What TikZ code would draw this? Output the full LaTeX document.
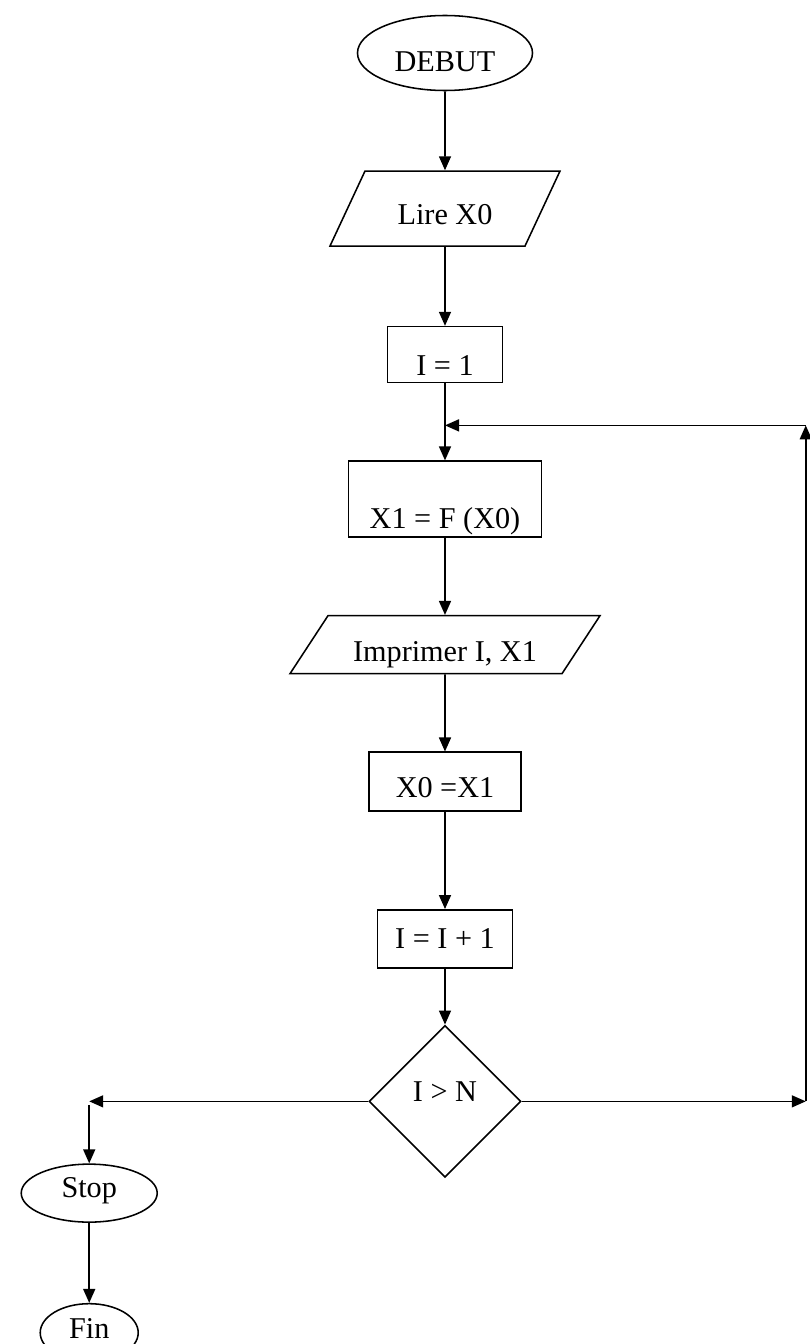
\documentclass[tikz,border=0pt]{standalone}
\usepackage{fontspec}
\setmainfont{Liberation Serif}
\usetikzlibrary{shapes.geometric, arrows.meta, positioning}

\begin{document}
\begin{tikzpicture}[
  font=\fontsize{21.5}{26}\selectfont,
  line width=1.1pt,
  term/.style={draw, ellipse, inner sep=0.5mm},
  io/.style={draw, trapezium, trapezium left angle=45, trapezium right angle=135, trapezium stretches body=true, inner sep=0.5mm},
  proc/.style={draw, rectangle, inner sep=0.5mm},
  decision/.style={draw, diamond, aspect=1, inner sep=0.5mm},
  txtlow/.style={text height=#1, text depth=0pt},
  ar/.style={-{Triangle[length=3.5mm, width=3mm]}}
]
\useasboundingbox (-111.25mm,13.25mm) rectangle (91mm,-322.75mm);
\node[term, minimum width=43.75mm, minimum height=18.75mm, txtlow=9.5mm] (debut) {DEBUT};
\node[io, below=19.75mm of debut, minimum width=57.5mm, minimum height=18.75mm, inner xsep=-1.9mm, txtlow=7.75mm] (lire) {Lire X0};
\node[proc, below=19.75mm of lire, minimum width=28.75mm, minimum height=14mm, txtlow=10.5mm] (init) {I = 1};
\node[proc, below=19.25mm of init, minimum width=48.25mm, minimum height=19mm, txtlow=14.5mm] (calc) {X1 = F (X0)};
\node[io, below=19.25mm of calc, minimum width=77.5mm, minimum height=14.5mm, txtlow=8.5mm] (impr) {Imprimer I, X1};
\node[proc, below=19.25mm of impr, minimum width=38mm, minimum height=14.75mm, txtlow=7.75mm] (swap) {X0 =X1};
\node[proc, below=24.25mm of swap, minimum width=33.75mm, minimum height=14.5mm, txtlow=5mm] (incr) {I = I + 1};
\node[decision, below=14mm of incr, minimum width=38mm, minimum height=38mm, text height=2mm, text depth=2mm] (cmp) {I > N};
% loop and exit corners
\coordinate[left=69.75mm of cmp.west] (lt);
\coordinate[right=71mm of cmp.east] (rt);
\coordinate[below=10.5mm of init.south] (jn);
\coordinate (ru) at (rt |- jn);
\node[term, below=15.5mm of lt, minimum width=34mm, minimum height=14.5mm, txtlow=2mm] (stop) {Stop};
\node[term, below=20mm of stop, minimum width=24.5mm, minimum height=14.5mm, txtlow=3mm] (fin) {Fin};
\foreach \a/\b in {debut/lire, lire/init, init/calc, calc/impr, impr/swap, swap/incr, incr/cmp, stop/fin}{\draw[ar] (\a) -- (\b);}
\draw[ar] (cmp.east) -- (rt);
\draw[ar] (rt) -- (ru);
\draw[ar] (ru) -- (jn);
\draw[ar] (cmp.west) -- (lt);
\draw[ar] ([yshift=-1mm]lt) -- (stop);
\end{tikzpicture}
\end{document}
